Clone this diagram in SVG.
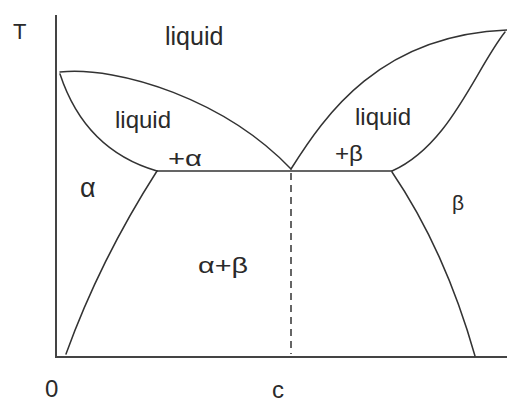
<svg xmlns="http://www.w3.org/2000/svg" width="507" height="403" viewBox="0 0 507 403">
<style>
.ax{stroke:#444;stroke-width:2;fill:none}
.ln{stroke:#333;stroke-width:1.5;fill:none;stroke-linecap:round}
.ds{stroke:#333;stroke-width:1.5;fill:none;stroke-dasharray:7 5}
text{font-family:"Liberation Sans",Arial,sans-serif;fill:#2a2a2a}
</style>
<rect width="507" height="403" fill="#fff"/>
<g id="axes">
<line class="ax" x1="56" y1="15" x2="56" y2="357"/>
<line class="ax" x1="55" y1="357" x2="507" y2="357"/>
</g>
<g id="connectors">
<path class="ln" d="M60,72 C120,66 225,100 291,169"/>
<path class="ln" d="M60,74 Q85,150 157,171"/>
<path class="ln" d="M157,171 Q100,260 66,354"/>
<path class="ln" d="M291,169 C325,115 380,35 507,30"/>
<path class="ln" d="M505,32 C475,70 450,145 392,171"/>
<path class="ln" d="M392,172 Q445,250 475,356"/>
<line class="ln" x1="157" y1="171" x2="392" y2="171"/>
<line class="ds" x1="291" y1="173" x2="291" y2="354"/>
</g>
<g id="labels">
<text x="13" y="39" font-size="22">T</text>
<text x="165" y="45" font-size="25">liquid</text>
<text x="115" y="128" font-size="24">liquid</text>
<text x="355" y="125" font-size="24">liquid</text>
<text x="168" y="166" font-size="22" textLength="34" lengthAdjust="spacingAndGlyphs">+α</text>
<text x="335" y="161" font-size="22" textLength="28" lengthAdjust="spacingAndGlyphs">+β</text>
<text x="80" y="197" font-size="27">α</text>
<text x="452" y="210" font-size="21">β</text>
<text x="198" y="273" font-size="22" textLength="50" lengthAdjust="spacingAndGlyphs">α+β</text>
<text x="45" y="397" font-size="24">0</text>
<text x="272" y="398" font-size="24">c</text>
</g>
</svg>
